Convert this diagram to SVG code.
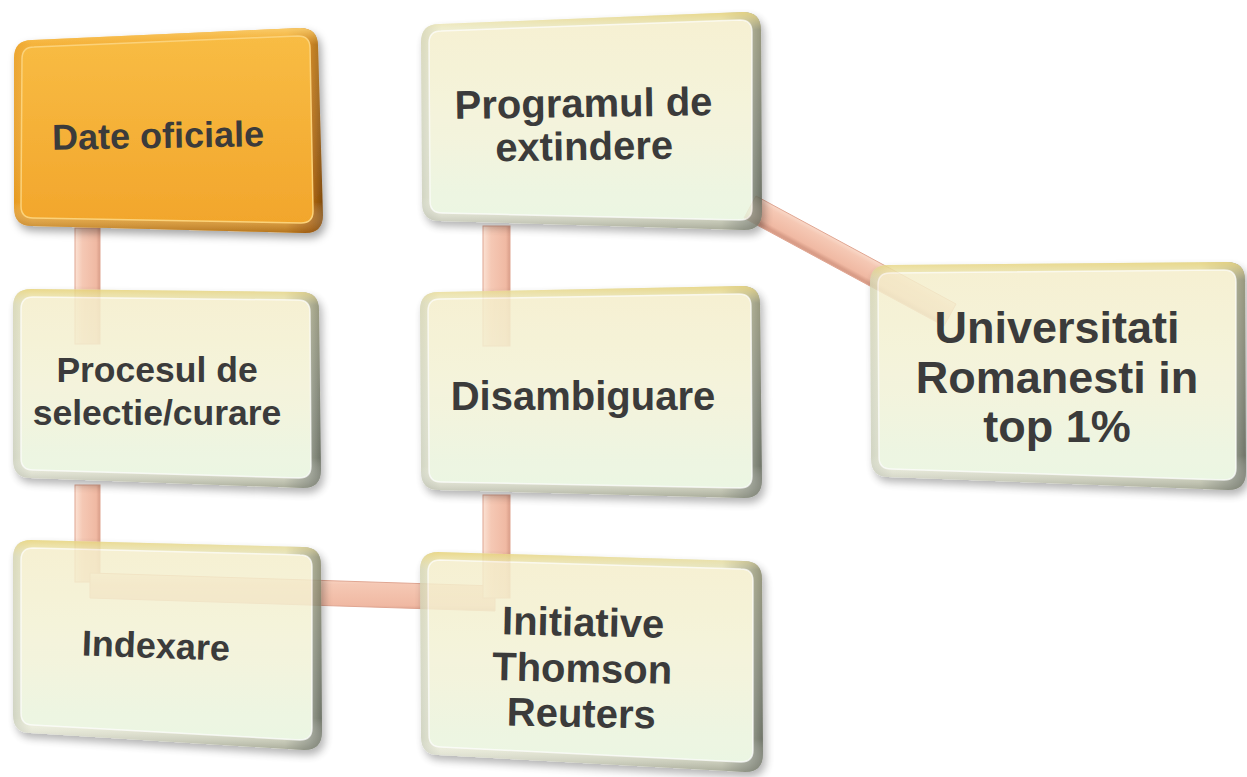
<svg xmlns="http://www.w3.org/2000/svg" width="1247" height="777" viewBox="0 0 1247 777">
<defs>
  <filter id="sh" x="-10%" y="-10%" width="125%" height="130%">
    <feDropShadow dx="3" dy="5" stdDeviation="4" flood-color="#000" flood-opacity="0.35"/>
  </filter>
  <linearGradient id="frameH" x1="0" y1="0" x2="1" y2="0">
    <stop offset="0" stop-color="#c9cdb8"/>
    <stop offset="0.06" stop-color="#eceed8"/>
    <stop offset="0.88" stop-color="#dfe2c6"/>
    <stop offset="0.96" stop-color="#8c9282"/>
    <stop offset="1" stop-color="#555b4c"/>
  </linearGradient>
  <linearGradient id="frameV" x1="0" y1="0" x2="0" y2="1">
    <stop offset="0" stop-color="#e6cf6c" stop-opacity="0.9"/>
    <stop offset="0.08" stop-color="#efe3a0" stop-opacity="0.3"/>
    <stop offset="0.85" stop-color="#ffffff" stop-opacity="0"/>
    <stop offset="1" stop-color="#6a6e5e" stop-opacity="0.6"/>
  </linearGradient>
  <linearGradient id="face" x1="0" y1="0" x2="0" y2="1">
    <stop offset="0" stop-color="#f5eecb"/>
    <stop offset="0.5" stop-color="#f3f2d6"/>
    <stop offset="1" stop-color="#e8f5df"/>
  </linearGradient>
  <linearGradient id="oframeH" x1="0" y1="0" x2="1" y2="0">
    <stop offset="0" stop-color="#e69a22"/>
    <stop offset="0.06" stop-color="#f4ae34"/>
    <stop offset="0.88" stop-color="#f0a52a"/>
    <stop offset="0.96" stop-color="#b86c12"/>
    <stop offset="1" stop-color="#7e4a0c"/>
  </linearGradient>
  <linearGradient id="oframeV" x1="0" y1="0" x2="0" y2="1">
    <stop offset="0" stop-color="#fbd070" stop-opacity="0.9"/>
    <stop offset="0.08" stop-color="#f8c050" stop-opacity="0.3"/>
    <stop offset="0.85" stop-color="#ffffff" stop-opacity="0"/>
    <stop offset="1" stop-color="#8a5010" stop-opacity="0.6"/>
  </linearGradient>
  <linearGradient id="oface" x1="0" y1="0" x2="0" y2="1">
    <stop offset="0" stop-color="#f8bc44"/>
    <stop offset="1" stop-color="#f2a62c"/>
  </linearGradient>
  <linearGradient id="barV" x1="0" y1="0" x2="1" y2="0">
    <stop offset="0" stop-color="#fbe2d4"/>
    <stop offset="0.3" stop-color="#f5c8b4"/>
    <stop offset="0.85" stop-color="#f0b9a3"/>
    <stop offset="1" stop-color="#d99d88"/>
  </linearGradient>
  <linearGradient id="barH" x1="0" y1="0" x2="0" y2="1">
    <stop offset="0" stop-color="#fbe2d4"/>
    <stop offset="0.3" stop-color="#f5c8b4"/>
    <stop offset="0.85" stop-color="#f0b9a3"/>
    <stop offset="1" stop-color="#d99d88"/>
  </linearGradient>
  <linearGradient id="barD" gradientUnits="userSpaceOnUse" x1="762" y1="196" x2="750" y2="218">
    <stop offset="0" stop-color="#fbe2d4"/>
    <stop offset="0.3" stop-color="#f5c8b4"/>
    <stop offset="0.85" stop-color="#f0b9a3"/>
    <stop offset="1" stop-color="#d99d88"/>
  </linearGradient>
  <style>
    .frame{fill:url(#frameH)}
    .frameV{fill:url(#frameV)}
    .face{fill:url(#face);stroke:#ffffff;stroke-opacity:0.7;stroke-width:1.5}
    .body{opacity:0.85}
    .bar{stroke:#e0a692;stroke-width:1}
    .t{font-family:"Liberation Sans",Arial,sans-serif;font-weight:bold;fill:#3b3b3b;text-anchor:middle}
  </style>
</defs>
<rect width="1247" height="777" fill="#ffffff"/>

<g id="connectors">
  <rect class="bar" x="75" y="228" width="25" height="116" fill="url(#barV)"/>
  <rect class="bar" x="75" y="485" width="25" height="97" fill="url(#barV)"/>
  <path class="bar" d="M90,573 L495,586 L495,611 L90,598 Z" fill="url(#barH)"/>
  <rect class="bar" x="483" y="495" width="27" height="103" fill="url(#barV)"/>
  <rect class="bar" x="483" y="226" width="27" height="120" fill="url(#barV)"/>
  <path class="bar" d="M756,196 L956,304 L944,326 L744,218 Z" fill="url(#barD)"/>
</g>

<g id="node-date-oficiale">
  <g filter="url(#sh)">
    <path d="M14,58 Q14,40 32,40 L300,28 Q318,28 318,46 L323,215 Q323,233 305,233 L32,226 Q14,226 14,208 Z" fill="url(#oframeH)"/>
    <path d="M14,58 Q14,40 32,40 L300,28 Q318,28 318,46 L323,215 Q323,233 305,233 L32,226 Q14,226 14,208 Z" fill="url(#oframeV)"/>
    <path d="M22,59 Q22,47 34,47 L298,36 Q310,36 310,48 L313,211 Q313,223 301,223 L33,218 Q21,218 21,206 Z" fill="url(#oface)" stroke="#fbd27a" stroke-width="1.5"/>
  </g>
  <text class="t" x="158" y="148" font-size="36" transform="rotate(-1 158 135)">Date oficiale</text>
</g>

<g id="node-programul">
  <g class="body" filter="url(#sh)">
    <path class="frame" d="M421,42 Q421,24 439,24 L743,12 Q761,12 761,30 L762,212 Q762,230 744,230 L440,221 Q422,221 422,203 Z"/>
    <path class="frameV" d="M421,42 Q421,24 439,24 L743,12 Q761,12 761,30 L762,212 Q762,230 744,230 L440,221 Q422,221 422,203 Z"/>
    <path class="face" d="M429,43 Q429,31 441,31 L740,20 Q752,20 752,32 L752,208 Q752,220 740,220 L442,213 Q430,213 430,201 Z"/>
  </g>
  <text class="t" font-size="40" transform="rotate(-0.8 584 138)"><tspan x="584" y="117">Programul de</tspan><tspan x="584" y="160">extindere</tspan></text>
</g>

<g id="node-procesul">
  <g class="body" filter="url(#sh)">
    <path class="frame" d="M13,307 Q13,289 31,289 L301,292 Q319,292 319,310 L321,470 Q321,488 303,488 L31,478 Q13,478 13,460 Z"/>
    <path class="frameV" d="M13,307 Q13,289 31,289 L301,292 Q319,292 319,310 L321,470 Q321,488 303,488 L31,478 Q13,478 13,460 Z"/>
    <path class="face" d="M21,309 Q21,297 33,297 L298,300 Q310,300 310,312 L311,466 Q311,478 299,478 L33,470 Q21,470 21,458 Z"/>
  </g>
  <text class="t" font-size="35.5"><tspan x="157" y="382">Procesul de</tspan><tspan x="157" y="425">selectie/curare</tspan></text>
</g>

<g id="node-disambiguare">
  <g class="body" filter="url(#sh)">
    <path class="frame" d="M420,310 Q420,292 438,292 L742,286 Q760,286 760,304 L762,480 Q762,498 744,498 L439,490 Q421,490 421,472 Z"/>
    <path class="frameV" d="M420,310 Q420,292 438,292 L742,286 Q760,286 760,304 L762,480 Q762,498 744,498 L439,490 Q421,490 421,472 Z"/>
    <path class="face" d="M428,311 Q428,299 440,299 L739,294 Q751,294 751,306 L752,476 Q752,488 740,488 L441,482 Q429,482 429,470 Z"/>
  </g>
  <text class="t" x="583" y="410" font-size="40">Disambiguare</text>
</g>

<g id="node-indexare">
  <g class="body" filter="url(#sh)">
    <path class="frame" d="M13,558 Q13,540 31,540 L303,547 Q321,547 321,565 L322,732 Q322,750 304,750 L31,733 Q13,733 13,715 Z"/>
    <path class="frameV" d="M13,558 Q13,540 31,540 L303,547 Q321,547 321,565 L322,732 Q322,750 304,750 L31,733 Q13,733 13,715 Z"/>
    <path class="face" d="M21,560 Q21,548 33,548 L300,555 Q312,555 312,567 L312,728 Q312,740 300,740 L33,725 Q21,725 21,713 Z"/>
  </g>
  <text class="t" x="156" y="658" font-size="36" transform="rotate(2 156 645)">Indexare</text>
</g>

<g id="node-initiative">
  <g class="body" filter="url(#sh)">
    <path class="frame" d="M420,570 Q420,552 438,552 L744,561 Q762,561 762,579 L763,754 Q763,772 745,772 L439,755 Q421,755 421,737 Z"/>
    <path class="frameV" d="M420,570 Q420,552 438,552 L744,561 Q762,561 762,579 L763,754 Q763,772 745,772 L439,755 Q421,755 421,737 Z"/>
    <path class="face" d="M428,572 Q428,560 440,560 L741,569 Q753,569 753,581 L753,750 Q753,762 741,762 L441,747 Q429,747 429,735 Z"/>
  </g>
  <text class="t" font-size="40" transform="rotate(1.2 582 680)"><tspan x="582" y="636">Initiative</tspan><tspan x="582" y="682">Thomson</tspan><tspan x="582" y="727">Reuters</tspan></text>
</g>

<g id="node-universitati">
  <g class="body" filter="url(#sh)">
    <path class="frame" d="M870,283 Q870,265 888,265 L1227,262 Q1245,262 1245,280 L1246,472 Q1246,490 1228,490 L889,477 Q871,477 871,459 Z"/>
    <path class="frameV" d="M870,283 Q870,265 888,265 L1227,262 Q1245,262 1245,280 L1246,472 Q1246,490 1228,490 L889,477 Q871,477 871,459 Z"/>
    <path class="face" d="M878,285 Q878,273 890,273 L1224,270 Q1236,270 1236,282 L1236,468 Q1236,480 1224,480 L891,469 Q879,469 879,457 Z"/>
  </g>
  <text class="t" font-size="45"><tspan x="1057" y="343">Universitati</tspan><tspan x="1057" y="393">Romanesti in</tspan><tspan x="1057" y="442">top 1%</tspan></text>
</g>
</svg>
